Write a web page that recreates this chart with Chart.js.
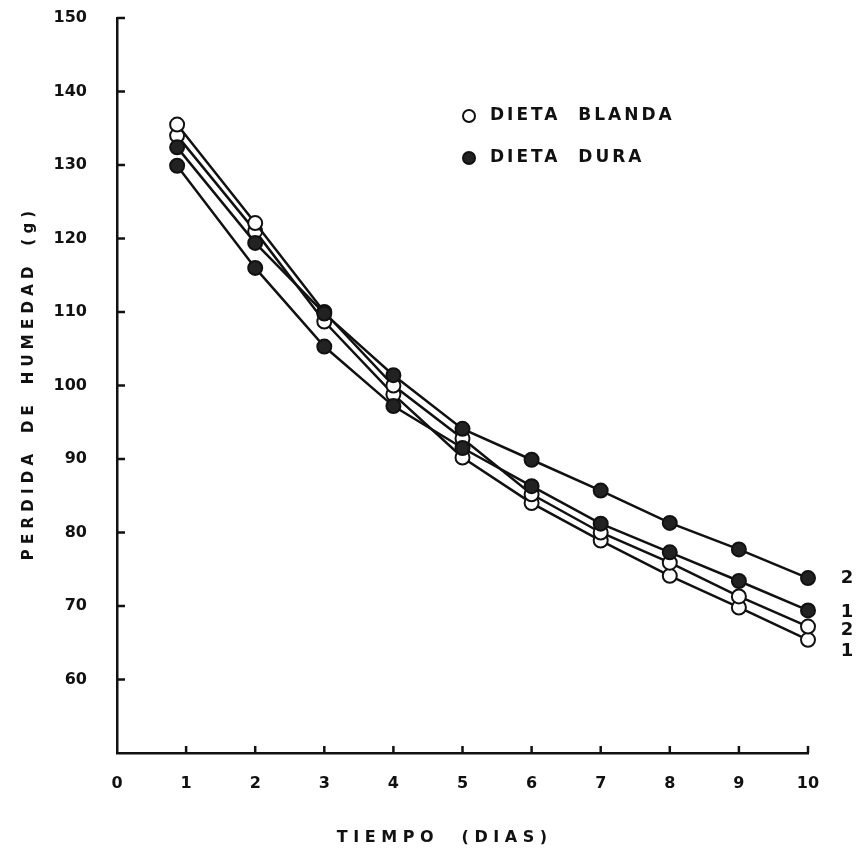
<!DOCTYPE html>
<html>
<head>
<meta charset="utf-8">
<script src="https://cdn.jsdelivr.net/npm/chart.js@4.4.0/dist/chart.umd.min.js"></script>
<style>
  html, body { margin: 0; padding: 0; background: #fff; }
  #wrap { width: 858px; height: 857px; }
</style>
</head>
<body>
<div id="wrap"><canvas id="myChart" width="858" height="857"></canvas></div>
<script>
// dias de medicion (eje x)
const dias = [0.87, 2, 3, 4, 5, 6, 7, 8, 9, 10];

// perdida de humedad (g) por serie
const blanda1 = [134.0, 121.0, 108.7, 98.8, 90.2, 84.0, 78.9, 74.1, 69.8, 65.4];
const blanda2 = [135.5, 122.1, 110.0, 100.0, 92.8, 85.2, 80.0, 75.9, 71.3, 67.2];
const dura1 = [129.9, 116.0, 105.3, 97.2, 91.5, 86.3, 81.2, 77.3, 73.4, 69.4];
const dura2 = [132.4, 119.4, 109.8, 101.4, 94.1, 89.9, 85.7, 81.3, 77.7, 73.8];

const xTicks = [0, 1, 2, 3, 4, 5, 6, 7, 8, 9, 10];
const yTicks = [60, 70, 80, 90, 100, 110, 120, 130, 140, 150];

const endLabels = ['2', '1', '2', '1'];
const legendLabels = ['DIETA  BLANDA', 'DIETA  DURA'];

const ink = '#111';
const fontName = '"DejaVu Sans", sans-serif';

function toPoints(ys) {
    return ys.map((v, i) => ({ x: dias[i], y: v }));
}

function serie(label, ys, filled) {
    return {
        label: label,
        data: toPoints(ys),
        borderColor: ink,
        borderWidth: 2.5,
        pointRadius: 7,
        pointBorderWidth: 2,
        pointBorderColor: ink,
        pointBackgroundColor: filled ? '#222' : '#fff',
        tension: 0,
        fill: false,
        clip: false
    };
}

// marcas hacia adentro, leyenda y etiquetas finales
const extras = {
    id: 'extras',
    afterDatasetsDraw(chart) {
        const ctx = chart.ctx;
        const xs = chart.scales.x, ys = chart.scales.y;
        const x0 = xs.getPixelForValue(0);
        const y0 = ys.getPixelForValue(50);
        ctx.save();
        ctx.strokeStyle = ink;
        ctx.lineWidth = 2.5;
        ctx.beginPath();
        yTicks.forEach(v => {
            const y = ys.getPixelForValue(v);
            ctx.moveTo(x0, y);
            ctx.lineTo(x0 + 8, y);
        });
        xTicks.slice(1).forEach(v => {
            const x = xs.getPixelForValue(v);
            ctx.moveTo(x, y0);
            ctx.lineTo(x, y0 - 7);
        });
        ctx.stroke();

        // leyenda
        const lx = 469, ly = [116, 158];
        ctx.lineWidth = 2;
        ctx.beginPath();
        ctx.arc(lx, ly[0], 6, 0, Math.PI * 2);
        ctx.fillStyle = '#fff';
        ctx.fill();
        ctx.stroke();
        ctx.beginPath();
        ctx.arc(lx, ly[1], 6, 0, Math.PI * 2);
        ctx.fillStyle = '#222';
        ctx.fill();
        ctx.stroke();
        ctx.fillStyle = ink;
        ctx.font = 'bold 17px ' + fontName;
        ctx.letterSpacing = '3px';
        ctx.textAlign = 'left';
        ctx.textBaseline = 'middle';
        ctx.fillText(legendLabels[0], 490, ly[0]);
        ctx.fillText(legendLabels[1], 490, ly[1]);
        ctx.letterSpacing = '0px';

        // numeros al final de las curvas
        const finals = [dura2, dura1, blanda2, blanda1].map(s => s[s.length - 1]);
        const offs = [0, 2, 4, 12];
        ctx.font = 'bold 18px ' + fontName;
        ctx.textAlign = 'center';
        finals.forEach((v, i) => {
            ctx.fillText(endLabels[i], 847, ys.getPixelForValue(v) + offs[i]);
        });

        // titulo del eje x
        ctx.font = 'bold 16px ' + fontName;
        ctx.fillText('T I E M P O     ( D I A S )', 442, 838);
        ctx.restore();
    }
};

const ctx = document.getElementById('myChart').getContext('2d');
window.myChart = new Chart(ctx, {
    type: 'line',
    data: {
        datasets: [
            serie('Dieta dura 2', dura2, true),
            serie('Dieta dura 1', dura1, true),
            serie('Dieta blanda 2', blanda2, false),
            serie('Dieta blanda 1', blanda1, false)
        ]
    },
    options: {
        responsive: false,
        animation: false,
        layout: { padding: { top: 18, right: 50, left: 0, bottom: 0 } },
        plugins: {
            legend: { display: false },
            tooltip: { enabled: false }
        },
        scales: {
            x: {
                type: 'linear',
                min: 0,
                max: 10,
                afterFit(scale) { scale.height = 104; },
                afterBuildTicks(scale) { scale.ticks = xTicks.map(v => ({ value: v })); },
                grid: { display: false, drawTicks: false },
                border: { display: true, color: ink, width: 2.5 },
                ticks: {
                    color: ink,
                    padding: 21,
                    maxRotation: 0,
                    font: { family: fontName, size: 16, weight: 'bold' }
                }
            },
            y: {
                min: 50,
                max: 150,
                afterFit(scale) {
                    scale.width = 117;
                    scale.paddingTop = 0;
                    scale.paddingBottom = 0;
                },
                afterBuildTicks(scale) { scale.ticks = yTicks.map(v => ({ value: v })); },
                grid: { display: false, drawTicks: false },
                border: { display: true, color: ink, width: 2.5 },
                ticks: {
                    color: ink,
                    padding: 30,
                    font: { family: fontName, size: 16, weight: 'bold' }
                },
                title: {
                    display: true,
                    text: 'P E R D I D A    D E    H U M E D A D    ( g )',
                    color: ink,
                    padding: { top: 20, bottom: 0 },
                    font: { family: fontName, size: 15, weight: 'bold' }
                }
            }
        }
    },
    plugins: [extras]
});
</script>
</body>
</html>
